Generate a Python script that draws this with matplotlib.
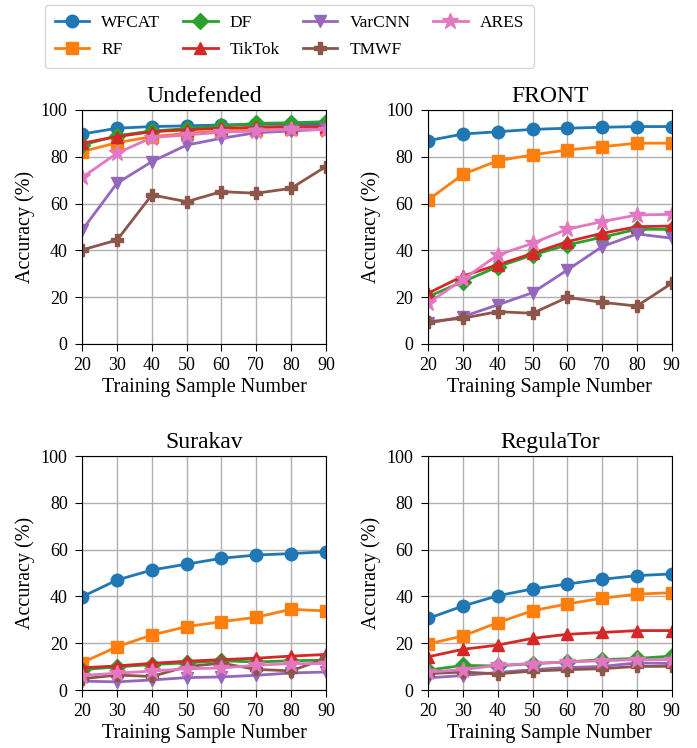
import numpy as np
from matplotlib import pyplot as plt
plt.rcParams["font.family"] = "Liberation Serif"
plt.rcParams["font.size"] = 13
plt.rcParams["xtick.major.size"] = 5
plt.rcParams["ytick.major.size"] = 5
plt.rcParams["xtick.major.pad"] = 4.5
plt.rcParams["ytick.major.pad"] = 5.5

samples = [20, 30, 40, 50, 60, 70, 80, 90]
methods = ['WFCAT', 'RF', 'DF', 'TikTok', 'VarCNN', 'TMWF', 'ARES']
markers = ['o', 's', 'D', '^', 'v', 'P', '*']
colors = ['tab:blue', 'tab:orange', 'tab:green', 'tab:red', 'tab:purple', 'tab:brown', 'tab:pink']

# Accuracy (%) per defense, one row per method (same order as methods)
undefended = [
    [89.7, 92.2, 92.9, 93.2, 93.6, 93.9, 93.9, 94.0],
    [82.2, 86.0, 88.6, 90.0, 91.0, 91.5, 91.7, 91.7],
    [85.0, 89.0, 91.0, 92.0, 93.0, 94.3, 94.5, 95.0],
    [85.8, 88.6, 90.7, 91.5, 92.2, 92.6, 92.9, 92.9],
    [48.7, 68.7, 77.9, 85.0, 87.9, 90.3, 91.0, 91.8],
    [40.2, 44.4, 63.7, 60.8, 65.1, 64.4, 66.5, 75.8],
    [71.2, 81.5, 88.2, 89.3, 90.5, 91.0, 91.7, 91.5],
]
front = [
    [86.9, 89.7, 90.7, 91.7, 92.2, 92.6, 92.9, 92.9],
    [61.5, 72.5, 78.3, 80.8, 82.9, 84.3, 85.8, 85.8],
    [20.2, 26.6, 33.0, 38.0, 42.3, 45.6, 49.0, 49.0],
    [21.7, 29.0, 33.8, 38.7, 43.7, 47.3, 50.1, 50.4],
    [8.8, 11.7, 16.7, 21.9, 31.6, 41.6, 47.0, 45.2],
    [9.5, 11.0, 13.8, 13.1, 19.9, 17.8, 16.2, 25.9],
    [17.4, 27.6, 38.0, 43.0, 49.0, 52.3, 55.1, 55.4],
]
surakav = [
    [39.9, 47.0, 51.3, 53.8, 56.3, 57.7, 58.3, 59.1],
    [11.7, 18.5, 23.5, 27.1, 29.2, 31.1, 34.5, 33.8],
    [8.7, 9.9, 10.9, 11.6, 12.5, 12.0, 12.5, 12.8],
    [9.5, 10.3, 11.4, 12.3, 13.0, 13.6, 14.5, 15.2],
    [3.8, 3.5, 4.3, 5.3, 5.6, 6.3, 7.3, 7.7],
    [4.8, 6.4, 5.8, 10.0, 11.5, 8.8, 8.2, 13.5],
    [6.2, 7.2, 8.1, 9.1, 9.4, 10.6, 11.3, 11.3],
]
regulator = [
    [30.6, 35.9, 40.3, 43.2, 45.3, 47.3, 48.9, 49.6],
    [19.7, 23.1, 28.8, 33.9, 36.8, 39.2, 41.0, 41.6],
    [8.5, 10.5, 10.3, 11.3, 12.0, 13.0, 13.5, 14.5],
    [14.2, 17.4, 19.2, 22.1, 23.8, 24.6, 25.4, 25.4],
    [5.2, 6.2, 7.5, 8.7, 9.6, 10.1, 11.6, 11.3],
    [7.0, 7.7, 6.9, 8.1, 8.7, 9.1, 10.1, 10.1],
    [7.7, 8.7, 10.6, 11.3, 12.0, 12.5, 13.0, 13.0],
]

panels = [('Undefended', undefended), ('FRONT', front),
          ('Surakav', surakav), ('RegulaTor', regulator)]

fig, axes = plt.subplots(2, 2, figsize=(6.97, 7.48), dpi=100)
fig.subplots_adjust(left=0.118, right=0.9637, top=0.853, bottom=0.0775,
                    wspace=0.42, hspace=0.479)

for ax, (title, data) in zip(axes.flat, panels):
    for name, vals, m, c in zip(methods, data, markers, colors):
        ms = 12 if m == '*' else (8 if m == 'D' else 9)
        ax.plot(samples, vals, marker=m, color=c, label=name,
                linewidth=2, markersize=ms)
    ax.set_xlim(20, 90)
    ax.set_ylim(0, 100)
    ax.set_xticks(samples)
    ax.set_yticks(np.arange(0, 101, 20))
    ax.grid(True, color='#b0b0b0', linewidth=1)
    ax.set_axisbelow(True)
    ax.set_title(title, fontsize=17, pad=6)
    ax.set_xlabel('Training Sample Number', fontsize=14.5, labelpad=3)
    ax.set_ylabel('Accuracy (%)', fontsize=14.5)

handles, labels = axes[0, 0].get_legend_handles_labels()
fig.legend(handles, labels, loc='upper left', ncol=4,
           bbox_to_anchor=(0.0646, 0.993), borderaxespad=0, fontsize=12.5,
           columnspacing=1.3, handletextpad=0.7, handlelength=2.0,
           labelspacing=0.65, borderpad=0.55)

plt.savefig('out.png')
